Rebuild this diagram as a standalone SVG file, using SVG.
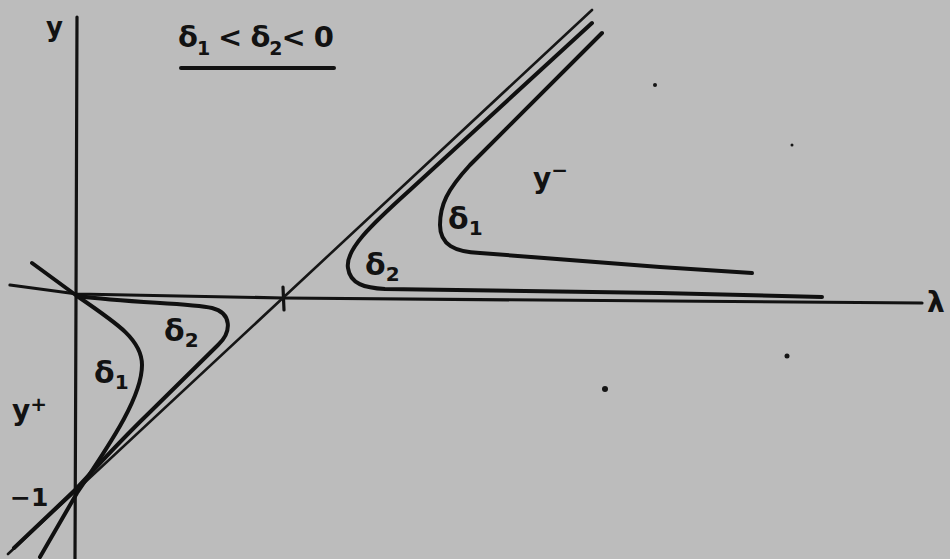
<svg xmlns="http://www.w3.org/2000/svg" width="950" height="559" viewBox="0 0 950 559">
<style>
.ax{fill:none;stroke:#121212;stroke-width:3.2;stroke-linecap:round;stroke-linejoin:round}
.as{fill:none;stroke:#161616;stroke-width:2.6;stroke-linecap:round}
.cv{fill:none;stroke:#101010;stroke-width:4;stroke-linecap:round;stroke-linejoin:round}
.t{font-family:"DejaVu Sans","Liberation Sans",sans-serif;font-weight:bold;fill:#121212}
.dot{fill:#151515}
</style>
<rect width="950" height="559" fill="#bcbcbc"/>
<g id="axes">
<polyline class="ax" points="77,17 76,300 75,559"/>
<polyline class="ax" points="10,285 77,294 283,298 922,303"/>
<line class="ax" x1="283" y1="287" x2="284" y2="310"/>
</g>
<g id="connectors">
<line id="asymptote" class="as" x1="8" y1="554" x2="592" y2="10"/>
<path id="left-d1" class="cv" d="M32,263 L77,296 C118,324 142,340 142,365 C142,395 115,437 77,493 L40,557"/>
<path id="left-d2" class="cv" d="M77,296 C130,303 190,303 212,308 C232,313 232,332 218,345 L148,414 C115,446 92,472 75,490 L14,548"/>
<path id="right-d2" class="cv" d="M592,23 L410,190 C370,226 345,250 348,268 C350,284 365,288 385,289 L660,293 L822,297"/>
<path id="right-d1" class="cv" d="M602,33 L470,165 C447,190 440,205 440,225 C440,245 455,252 480,253 L660,267 L752,273"/>
</g>
<g id="title">
<text class="t" x="178" y="47" font-size="29" textLength="156" lengthAdjust="spacing">δ<tspan font-size="19" dy="8">1</tspan><tspan dy="-8"> &lt; δ</tspan><tspan font-size="19" dy="8">2</tspan><tspan dy="-8">&lt; 0</tspan></text>
<line x1="181" y1="68" x2="334" y2="68" stroke="#121212" stroke-width="4" stroke-linecap="round"/>
</g>
<g id="labels">
<text class="t" x="46" y="36" font-size="26">y</text>
<text class="t" x="927" y="312" font-size="28">λ</text>
<text class="t" x="12" y="420" font-size="28">y<tspan font-size="20" dy="-9">+</tspan></text>
<text class="t" x="10" y="506" font-size="25">−1</text>
<text class="t" x="94" y="383" font-size="30">δ<tspan font-size="20" dy="6">1</tspan></text>
<text class="t" x="164" y="341" font-size="30">δ<tspan font-size="20" dy="6">2</tspan></text>
<text class="t" x="448" y="229" font-size="30">δ<tspan font-size="20" dy="6">1</tspan></text>
<text class="t" x="365" y="275" font-size="30">δ<tspan font-size="20" dy="6">2</tspan></text>
<text class="t" x="533" y="188" font-size="28">y<tspan font-size="20" dy="-11">−</tspan></text>
</g>
<g id="specks">
<circle class="dot" cx="605" cy="389" r="3"/>
<circle class="dot" cx="787" cy="356" r="2.5"/>
<circle class="dot" cx="655" cy="85" r="2"/>
<circle class="dot" cx="792" cy="145" r="1.5"/>
</g>
</svg>
